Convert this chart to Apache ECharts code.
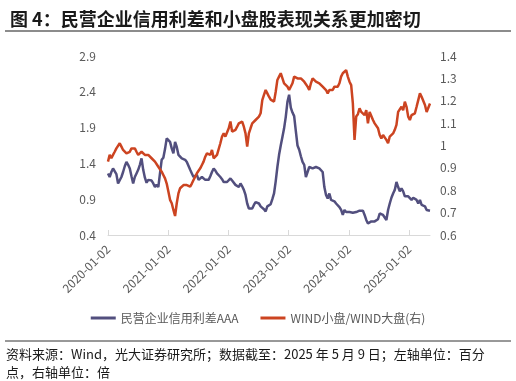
<!DOCTYPE html>
<html>
<head>
<meta charset="utf-8">
<script src="https://cdn.jsdelivr.net/npm/echarts@6/dist/echarts.min.js"></script>
<style>
html,body{margin:0;padding:0;background:#fff;}
#chart{width:516px;height:381px;}
</style>
</head>
<body>
<div id="chart"></div>
<script>
// ---- data ----
const startDate = [2020, 0, 2];
const endDate = [2025, 4, 9];
const yearTicks = ['2020-01-02','2021-01-02','2022-01-02','2023-01-02','2024-01-02','2025-01-02'];
const seriesNames = ['民营企业信用利差AAA', 'WIND小盘/WIND大盘(右)'];
const leftTicks = { min: 0.4, max: 2.9, interval: 0.5 };
const rightTicks = { min: 0.6, max: 1.4, interval: 0.1 };

// 民营企业信用利差AAA (left axis, 百分点), sampled evenly from 2020-01-02 to 2025-05-09
const spreadAAA = [
1.26,1.21,1.28,1.33,1.35,1.25,1.12,1.14,1.21,1.28,1.36,1.42,1.38,1.33,1.22,1.12,1.21,1.26,1.31,1.38,
1.47,1.31,1.20,1.13,1.17,1.19,1.16,1.12,1.07,1.10,1.07,1.26,1.45,1.48,1.60,1.75,1.74,1.70,1.61,1.54,
1.70,1.63,1.52,1.50,1.47,1.46,1.45,1.42,1.40,1.31,1.26,1.21,1.22,1.24,1.17,1.19,1.21,1.19,1.17,1.17,
1.17,1.22,1.28,1.33,1.30,1.26,1.24,1.21,1.18,1.14,1.14,1.14,1.16,1.19,1.16,1.14,1.10,1.09,1.07,1.12,
1.08,1.03,0.96,0.84,0.77,0.77,0.77,0.82,0.86,0.88,0.84,0.80,0.80,0.76,0.73,0.80,0.82,0.83,
0.90,0.98,1.15,1.35,1.52,1.65,1.77,1.89,2.05,2.26,2.36,2.18,2.11,2.06,1.85,1.65,1.59,1.50,1.42,1.38,
1.21,1.19,1.35,1.34,1.33,1.35,1.35,1.34,1.33,1.31,1.28,1.07,0.96,0.91,0.98,0.89,0.88,0.87,0.84,0.82,
0.79,0.75,0.68,0.75,0.72,0.70,0.72,0.73,0.71,0.70,0.72,0.73,0.74,0.75,0.74,0.68,0.61,0.56,0.58,0.59,
0.59,0.59,0.60,0.62,0.70,0.69,0.68,0.66,0.61,0.75,0.84,0.92,0.98,1.03,1.14,1.07,1.01,1.05,1.01,0.94,
0.96,0.94,0.94,0.89,0.92,0.94,0.89,0.84,0.89,0.82,0.80,0.80,0.75,0.77,0.74
];

// WIND小盘/WIND大盘 (right axis, 倍)
const smallLargeRatio = [
0.928,0.958,0.943,0.958,0.972,0.987,0.987,1.010,0.995,0.980,0.987,0.965,0.958,0.972,0.987,0.995,0.987,0.972,0.958,0.958,
0.972,0.972,0.958,0.958,0.958,0.950,0.943,0.935,0.928,0.920,0.905,0.898,0.883,0.868,0.853,0.830,0.794,0.757,0.742,0.712,
0.685,0.742,0.786,0.809,0.816,0.823,0.816,0.823,0.830,0.816,0.830,0.846,0.861,0.876,0.883,0.898,0.913,0.928,0.950,0.965,
0.972,0.958,0.980,0.943,0.943,0.958,0.965,1.010,1.040,1.054,1.040,1.047,1.077,1.107,1.062,1.054,1.070,1.084,1.099,1.099,
1.107,1.084,1.054,0.995,1.054,1.077,1.099,1.107,1.114,1.114,1.129,1.144,1.203,1.226,1.248,1.233,1.218,1.205,
1.200,1.196,1.240,1.293,1.308,1.323,1.315,1.278,1.285,1.263,1.248,1.255,1.278,1.308,1.315,1.300,1.293,1.300,1.293,1.285,
1.278,1.263,1.248,1.278,1.300,1.293,1.285,1.285,1.278,1.285,1.263,1.255,1.248,1.233,1.248,1.255,1.248,1.263,1.255,1.263,
1.278,1.308,1.323,1.330,1.337,1.308,1.285,1.270,1.188,1.025,1.130,1.140,1.166,1.150,1.158,1.136,1.158,1.099,1.150,1.144,
1.114,1.099,1.092,1.077,1.047,1.032,1.047,1.054,1.025,1.010,1.040,1.047,1.054,1.070,1.092,1.150,1.158,1.173,1.158,1.196,
1.173,1.129,1.114,1.136,1.136,1.144,1.173,1.203,1.233,1.218,1.210,1.181,1.150,1.158,1.188
];

// ---- build ----
const t0 = Date.UTC(startDate[0], startDate[1], startDate[2]);
const t1 = Date.UTC(endDate[0], endDate[1], endDate[2]);
function toTime(s){ const p = s.split('-').map(Number); return Date.UTC(p[0], p[1]-1, p[2]); }
function pairs(arr){
  const n = arr.length;
  return arr.map((v,i)=>[t0 + (t1 - t0) * i / (n - 1), v]);
}
const tickTimes = yearTicks.map(toTime);
function fmtDate(v){
  const d = new Date(v);
  const p = x => (x < 10 ? '0' : '') + x;
  return d.getUTCFullYear() + '-' + p(d.getUTCMonth()+1) + '-' + p(d.getUTCDate());
}

const FONT = '"Noto Sans CJK SC", "Noto Sans", sans-serif';
const chart = echarts.init(document.getElementById('chart'), null, {renderer:'canvas'});
chart.setOption({
  animation: false,
  backgroundColor: '#ffffff',
  textStyle: { fontFamily: FONT },
  title: {
    text: '图 4：民营企业信用利差和小盘股表现关系更加密切',
    left: 5, top: 5,
    textStyle: { fontSize: 18, fontWeight: 'bold', color: '#1a1a1a', fontFamily: FONT }
  },
  graphic: [
    { type: 'line', shape: { x1: 5, y1: 31, x2: 511, y2: 31 }, style: { stroke: '#666666', lineWidth: 1.5 } },
    { type: 'line', shape: { x1: 5, y1: 341, x2: 511, y2: 341 }, style: { stroke: '#333333', lineWidth: 1 } },
    { type: 'text', left: 6, top: 345, style: {
        text: '资料来源：Wind，光大证券研究所；数据截至：2025 年 5 月 9 日；左轴单位：百分\n点，右轴单位：倍',
        fontSize: 13, lineHeight: 18, fill: '#1a1a1a', fontFamily: FONT } }
  ],
  legend: {
    top: 307, left: 'center',
    itemWidth: 25, itemHeight: 3, itemGap: 22,
    icon: 'rect',
    textStyle: { fontSize: 12, color: '#595959', fontFamily: FONT },
    data: seriesNames
  },
  grid: { left: 108, right: 86, top: 56, bottom: 146 },
  xAxis: {
    type: 'value',
    min: t0, max: t1,
    axisLine: { show: true, lineStyle: { color: '#d9d9d9', width: 1 } },
    axisTick: { show: true, inside: true, length: 5, customValues: tickTimes, lineStyle: { color: '#d9d9d9' } },
    axisLabel: {
      customValues: tickTimes,
      rotate: 45, fontSize: 12, color: '#595959', margin: 12, fontFamily: FONT,
      formatter: v => fmtDate(v)
    },
    splitLine: { show: false }
  },
  yAxis: [
    { type: 'value', min: leftTicks.min, max: leftTicks.max, interval: leftTicks.interval,
      axisLine: { show: false }, axisTick: { show: false }, splitLine: { show: false },
      axisLabel: { fontSize: 12, color: '#595959', margin: 12, fontFamily: FONT,
        formatter: v => String(Math.round(v*10)/10) } },
    { type: 'value', min: rightTicks.min, max: rightTicks.max, interval: rightTicks.interval,
      axisLine: { show: false }, axisTick: { show: false }, splitLine: { show: false },
      axisLabel: { fontSize: 12, color: '#595959', margin: 10, fontFamily: FONT,
        formatter: v => String(Math.round(v*10)/10) } }
  ],
  series: [
    { name: seriesNames[0], type: 'line', yAxisIndex: 0, data: pairs(spreadAAA),
      showSymbol: false, symbol: 'none', lineStyle: { color: '#524f7e', width: 2.5 }, itemStyle: { color: '#524f7e' } },
    { name: seriesNames[1], type: 'line', yAxisIndex: 1, data: pairs(smallLargeRatio),
      showSymbol: false, symbol: 'none', lineStyle: { color: '#cc4421', width: 2.5 }, itemStyle: { color: '#cc4421' } }
  ]
});
</script>
</body>
</html>
